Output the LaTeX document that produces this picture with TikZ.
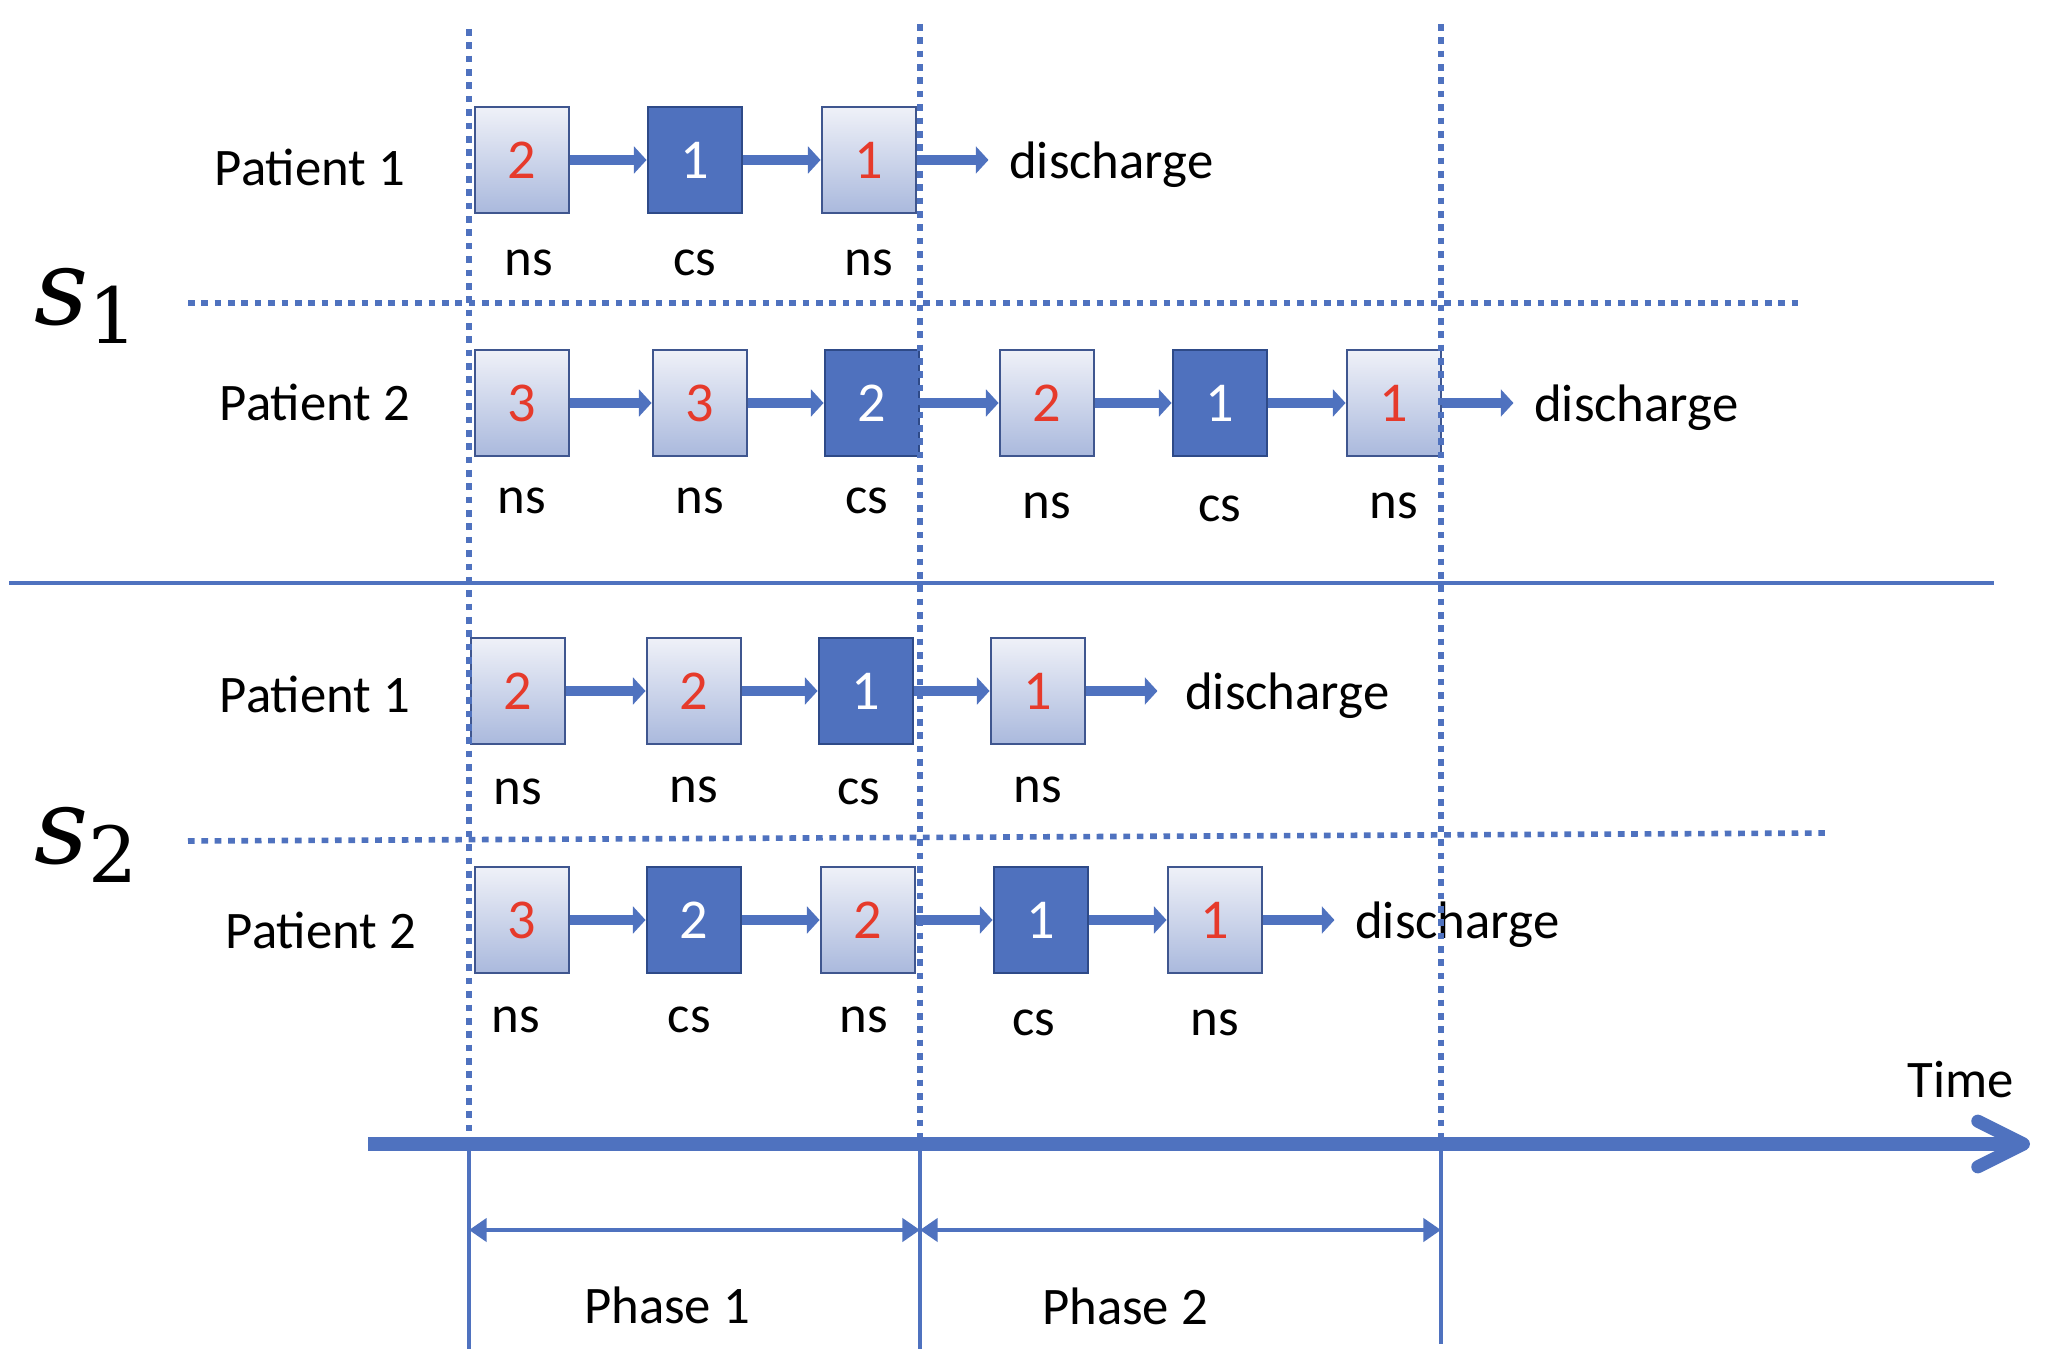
\documentclass[tikz,border=0pt]{standalone}
\usepackage{fontspec}
\setmainfont{Carlito}
\newfontfamily\scenfont{DejaVu Serif}
\usepackage{tikz}
\usetikzlibrary{arrows.meta, positioning}
\definecolor{lineblue}{HTML}{4F72BF}
\definecolor{boxedge}{HTML}{3F568F}
\definecolor{csfill}{HTML}{4F71BE}
\definecolor{csedge}{HTML}{2E4A88}
\definecolor{nstop}{HTML}{EFF1F8}
\definecolor{nsbottom}{HTML}{AAB9DD}
\definecolor{digitred}{HTML}{E63A2B}
\newcommand{\scen}[1]{{\scenfont\fontsize{30}{34}\selectfont\itshape s\raisebox{-5.6pt}{\upshape\fontsize{22}{24}\selectfont #1}}}

\begin{document}
\begin{tikzpicture}[
    x=0.01cm, y=-0.01cm,
    every node/.style={font=\fontsize{15}{18}\selectfont},
    stagebox/.style={rectangle, minimum width=0.94cm, minimum height=1.06cm,
                    line width=0.8pt, font=\fontsize{16}{19}\selectfont},
    nsbox/.style={stagebox, draw=boxedge, top color=nstop, bottom color=nsbottom, text=digitred},
    csbox/.style={stagebox, draw=csedge, fill=csfill, text=white},
    exit/.style={inner xsep=5.7pt, text depth=0pt},
    flow/.style={draw=lineblue, line width=2.8pt, -{Triangle[length=3.6pt,width=7.6pt]}},
    grid/.style={lineblue, line width=1.6pt, dash pattern=on 1.9pt off 1.9pt},
    tick/.style={lineblue, line width=1.3pt},
    span/.style={lineblue, line width=1.3pt, {Triangle[length=5pt,width=6.5pt]}-{Triangle[length=5pt,width=6.5pt]}}
]
\useasboundingbox (0,0) rectangle (2060,1370);

% scenario labels
\node (sone) at (86,306) {\scen{1}};
\node (stwo) at (86,845) {\scen{2}};

% s1, patient 1
\node (pa) at (310,167) {Patient 1};
\node[nsbox] at (522,160) (a1) {2};
\node[csbox] at (695,160) (a2) {1};
\node[nsbox] at (869,160) (a3) {1};
\node[exit, right=0.71cm of a3] (adis) {discharge};
\node[below=0.23cm of a1, xshift=2pt] (a1t) {ns};
\node[below=0.23cm of a2] (a2t) {cs};
\node[below=0.23cm of a3] (a3t) {ns};

% s1, patient 2
\node (pb) at (315,402) {Patient 2};
\node[nsbox] at (522,403) (b1) {3};
\node[nsbox] at (700,403) (b2) {3};
\node[csbox] at (872,403) (b3) {2};
\node[nsbox] at (1047,403) (b4) {2};
\node[csbox] at (1220,403) (b5) {1};
\node[nsbox] at (1394,403) (b6) {1};
\node[exit, right=0.71cm of b6] (bdis) {discharge};
\node[below=0.18cm of b1] (b1t) {ns};
\node[below=0.18cm of b2] (b2t) {ns};
\node[below=0.18cm of b3, xshift=-1.4pt] (b3t) {cs};
\node[below=0.23cm of b4] (b4t) {ns};
\node[below=0.26cm of b5] (b5t) {cs};
\node[below=0.23cm of b6] (b6t) {ns};

% s2, patient 1
\node (pc) at (315,694) {Patient 1};
\node[nsbox] at (518,691) (c1) {2};
\node[nsbox] at (694,691) (c2) {2};
\node[csbox] at (866,691) (c3) {1};
\node[nsbox] at (1038,691) (c4) {1};
\node[exit, right=0.71cm of c4, xshift=2pt] (cdis) {discharge};
\node[below=0.21cm of c1] (c1t) {ns};
\node[below=0.19cm of c2] (c2t) {ns};
\node[below=0.21cm of c3, xshift=-2pt] (c3t) {cs};
\node[below=0.19cm of c4] (c4t) {ns};

% s2, patient 2
\node (pd) at (321,930) {Patient 2};
\node[nsbox] at (522,920) (d1) {3};
\node[csbox] at (694,920) (d2) {2};
\node[nsbox] at (868,920) (d3) {2};
\node[csbox] at (1041,920) (d4) {1};
\node[nsbox] at (1215,920) (d5) {1};
\node[exit, right=0.71cm of d5] (ddis) {discharge};
\node[below=0.2cm of d1, xshift=-1.7pt] (d1t) {ns};
\node[below=0.2cm of d2, xshift=-1.3pt] (d2t) {cs};
\node[below=0.2cm of d3, xshift=-1.2pt] (d3t) {ns};
\node[below=0.23cm of d4, xshift=-2pt] (d4t) {cs};
\node[below=0.23cm of d5] (d5t) {ns};

% transitions
\draw[flow] (a1) -- (a2);
\draw[flow] (a2) -- (a3);
\draw[flow] (a3) -- (adis);
\draw[flow] (b1) -- (b2);
\draw[flow] (b2) -- (b3);
\draw[flow] (b3) -- (b4);
\draw[flow] (b4) -- (b5);
\draw[flow] (b5) -- (b6);
\draw[flow] (b6) -- (bdis);
\draw[flow] (c1) -- (c2);
\draw[flow] (c2) -- (c3);
\draw[flow] (c3) -- (c4);
\draw[flow] (c4) -- ([xshift=-2pt]cdis.west);
\draw[flow] (d1) -- (d2);
\draw[flow] (d2) -- (d3);
\draw[flow] (d3) -- (d4);
\draw[flow] (d4) -- (d5);
\draw[flow] (d5) -- (ddis);

% time grid
\coordinate (g0) at (469,29);
\coordinate (g1) at (920,24);
\coordinate (g2) at (1441,24);
\coordinate (t0) at (469,1144);
\coordinate (t1) at (920,1144);
\coordinate (t2) at (1441,1144);
\coordinate (h0) at (469,1349);
\coordinate (h1) at (920,1349);
\coordinate (h2) at (1441,1344);
\coordinate (sa) at (188,303);
\coordinate (sb) at (1803,303);
\coordinate (sc) at (188,841);
\coordinate (sd) at (1829,833);
\coordinate (ma) at (9,583);
\coordinate (mb) at (1994,583);

\draw[grid] (sa) -- (sb);
\draw[grid] (sc) -- (sd);
\draw[lineblue, line width=1.2pt] (ma) -- (mb);
\draw[grid] (g0) -- (t0);
\draw[grid] (g1) -- (t1);
\draw[grid] (g2) -- (t2);

% time axis
\coordinate (tstart) at (368,1144);
\coordinate (tend) at (2030,1144);
\draw[lineblue, line width=3.7pt, -{Straight Barb[length=13pt,width=13pt,round]}] (tstart) -- (tend);
\node (time) at (1961,1080) {Time};
\draw[tick] (t0) -- (h0);
\draw[tick] (t1) -- (h1);
\draw[tick] (t2) -- (h2);

% phases
\coordinate (p0) at (469,1230);
\coordinate (p1) at (920,1230);
\coordinate (p2) at (1441,1230);
\draw[span] (p0) -- (p1);
\draw[span] (p1) -- (p2);
\node (ph1) at (667,1305) {Phase 1};
\node (ph2) at (1125,1306) {Phase 2};

\end{tikzpicture}
\end{document}
